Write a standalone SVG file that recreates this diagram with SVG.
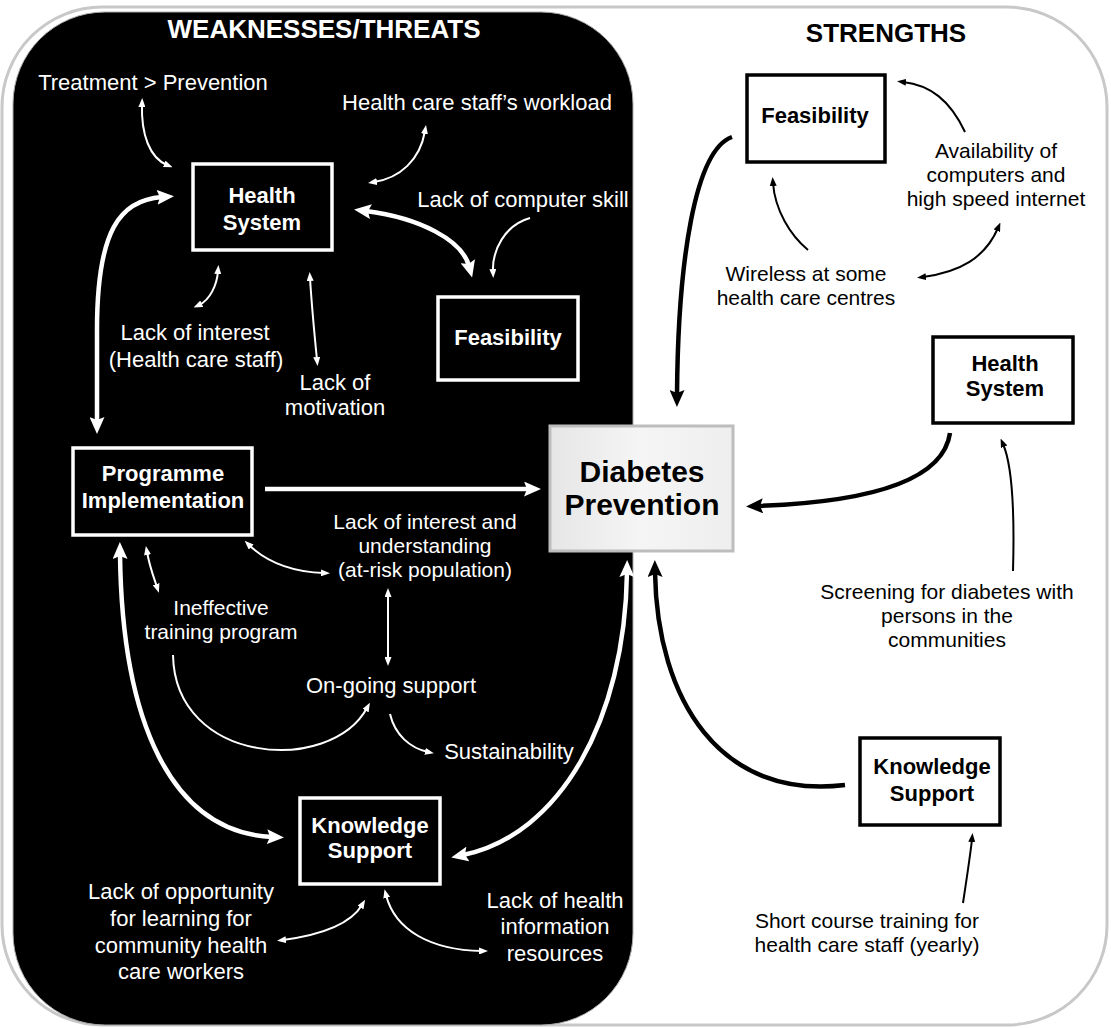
<svg xmlns="http://www.w3.org/2000/svg" width="1111" height="1028" viewBox="0 0 1111 1028">
<style>
text{font-family:"Liberation Sans",Arial,Helvetica,sans-serif;text-anchor:middle}
.w{fill:#fff;font-size:22px}
.k{fill:#000;font-size:21px}
.s{font-size:21px}
.wb{fill:#fff;font-size:22px;font-weight:bold}
.kb{fill:#000;font-size:22px;font-weight:bold}
.title{font-size:26px;font-weight:bold}
.nw{fill:#000;stroke:#fff;stroke-width:3.5}
.nk{fill:#fff;stroke:#000;stroke-width:3.5}
.cw{fill:none;stroke:#fff;stroke-width:2}
.cwt{fill:none;stroke:#fff;stroke-width:4.5}
.ck{fill:none;stroke:#000;stroke-width:2}
.ckt{fill:none;stroke:#000;stroke-width:4.5}
</style>
<defs>
<marker id="hw" viewBox="0 0 17 15" refX="5" refY="7.5" markerWidth="17" markerHeight="15" markerUnits="userSpaceOnUse" orient="auto-start-reverse"><path d="M0,0 L17,7.5 L0,15 L3,7.5 z" fill="#fff"/></marker>
<marker id="tw" viewBox="0 0 9 7" refX="3" refY="3.5" markerWidth="9" markerHeight="7" markerUnits="userSpaceOnUse" orient="auto-start-reverse"><path d="M0,0 L9,3.5 L0,7 z" fill="#fff"/></marker>
<marker id="hk" viewBox="0 0 17 15" refX="5" refY="7.5" markerWidth="17" markerHeight="15" markerUnits="userSpaceOnUse" orient="auto-start-reverse"><path d="M0,0 L17,7.5 L0,15 L3,7.5 z" fill="#000"/></marker>
<marker id="tk" viewBox="0 0 9 7" refX="3" refY="3.5" markerWidth="9" markerHeight="7" markerUnits="userSpaceOnUse" orient="auto-start-reverse"><path d="M0,0 L9,3.5 L0,7 z" fill="#000"/></marker>
<linearGradient id="dp" x1="0" y1="0" x2="1" y2="0"><stop offset="0" stop-color="#e6e6e6"/><stop offset="0.5" stop-color="#f5f5f5"/><stop offset="1" stop-color="#eeeeee"/></linearGradient>
</defs>
<rect width="1111" height="1028" fill="#fff"/>
<g id="panel-strengths">
<rect x="2" y="7" width="1105" height="1018" rx="100" fill="#fff" stroke="#c8c8c8" stroke-width="3"/>
<text class="kb title" x="886" y="42">STRENGTHS</text>
</g>
<g id="panel-weaknesses">
<rect x="13" y="12" width="620" height="1013" rx="92" fill="#000" stroke="#aaa" stroke-width="1"/>
<text class="wb title" x="324" y="38">WEAKNESSES/THREATS</text>
</g>

<g id="connectors">
<path class="cwt" d="M97,422 L97,330 C97,230 120,200 162,197" marker-start="url(#hw)" marker-end="url(#hw)"/>
<path class="cwt" d="M366,211 C420,218 462,240 469,266" marker-start="url(#hw)" marker-end="url(#hw)"/>
<path class="cwt" d="M265,489 L529,489" marker-end="url(#hw)"/>
<path class="cwt" d="M120,554 C122,720 170,832 272,837" marker-start="url(#hw)" marker-end="url(#hw)"/>
<path class="cwt" d="M627,572 C625,720 560,835 463,855" marker-start="url(#hw)" marker-end="url(#hw)"/>
<path class="ckt" d="M732,137 C695,150 678,260 677,395" marker-end="url(#hk)"/>
<path class="ckt" d="M950,433 C942,490 840,503 758,506" marker-end="url(#hk)"/>
<path class="ckt" d="M845,785 C720,800 657,700 655,572" marker-end="url(#hk)"/>
<path class="cw" d="M142,104 C141,135 150,158 167,165" marker-start="url(#tw)" marker-end="url(#tw)"/>
<path class="cw" d="M425,131 C420,160 400,178 374,182" marker-start="url(#tw)" marker-end="url(#tw)"/>
<path class="cw" d="M218,271 C217,285 210,300 199,305" marker-start="url(#tw)" marker-end="url(#tw)"/>
<path class="cw" d="M310,278 C312,310 315,340 317,360" marker-start="url(#tw)" marker-end="url(#tw)"/>
<path class="cw" d="M530,218 C505,225 492,250 493,272" marker-end="url(#tw)"/>
<path class="cw" d="M147,552 C150,568 154,578 157,587" marker-start="url(#tw)" marker-end="url(#tw)"/>
<path class="cw" d="M249,545 C270,565 295,572 324,573" marker-start="url(#tw)" marker-end="url(#tw)"/>
<path class="cw" d="M388,594 L388,660" marker-start="url(#tw)" marker-end="url(#tw)"/>
<path class="cw" d="M173,655 C175,765 330,775 367,708" marker-end="url(#tw)"/>
<path class="cw" d="M390,714 C395,735 410,748 428,752" marker-end="url(#tw)"/>
<path class="cw" d="M362,905 C350,925 320,935 283,940" marker-start="url(#tw)" marker-end="url(#tw)"/>
<path class="cw" d="M386,895 C395,930 430,950 482,951" marker-start="url(#tw)" marker-end="url(#tw)"/>
<path class="ck" d="M965,132 C950,100 930,85 903,82" marker-end="url(#tk)"/>
<path class="ck" d="M808,250 C790,235 775,210 773,183" marker-end="url(#tk)"/>
<path class="ck" d="M998,228 C985,258 960,272 923,277" marker-start="url(#tk)" marker-end="url(#tk)"/>
<path class="ck" d="M1013,571 C1015,500 1010,460 1003,444" marker-end="url(#tk)"/>
<path class="ck" d="M963,903 C968,870 971,850 972,839" marker-end="url(#tk)"/>
</g>

<g id="hs-left"><rect class="nw" x="193" y="164" width="139" height="86"/><text class="wb" x="262" y="203">Health</text><text class="wb" x="262" y="230">System</text></g>
<g id="feas-left"><rect class="nw" x="438" y="297" width="140" height="83"/><text class="wb" x="508" y="345">Feasibility</text></g>
<g id="prog-impl"><rect class="nw" x="73" y="448" width="179" height="87"/><text class="wb" x="163" y="481">Programme</text><text class="wb" x="163" y="508">Implementation</text></g>
<g id="ks-left"><rect class="nw" x="300" y="798" width="140" height="86"/><text class="wb" x="370" y="833">Knowledge</text><text class="wb" x="370" y="858">Support</text></g>
<g id="diabetes"><rect x="550" y="426" width="183" height="125" fill="url(#dp)" stroke="#bdbdbd" stroke-width="3"/><text class="kb" style="font-size:30px" x="642" y="482">Diabetes</text><text class="kb" style="font-size:30px" x="642" y="515">Prevention</text></g>
<g id="feas-right"><rect class="nk" x="747" y="75" width="138" height="87"/><text class="kb" x="815" y="123">Feasibility</text></g>
<g id="hs-right"><rect class="nk" x="933" y="337" width="140" height="86"/><text class="kb" x="1005" y="371">Health</text><text class="kb" x="1005" y="396">System</text></g>
<g id="ks-right"><rect class="nk" x="860" y="738" width="140" height="87"/><text class="kb" x="932" y="774">Knowledge</text><text class="kb" x="932" y="801">Support</text></g>

<g id="labels-left">
<text class="w" x="153" y="90">Treatment &gt; Prevention</text>
<text class="w" x="477" y="110">Health care staff’s workload</text>
<text class="w" x="523" y="207">Lack of computer skill</text>
<text class="w" x="195" y="340">Lack of interest</text>
<text class="w" x="196" y="367">(Health care staff)</text>
<text class="w" x="335" y="390">Lack of</text>
<text class="w" x="335" y="415">motivation</text>
<text class="w s" x="221" y="615">Ineffective</text>
<text class="w s" x="221" y="639">training program</text>
<text class="w s" x="425" y="529">Lack of interest and</text>
<text class="w s" x="425" y="553">understanding</text>
<text class="w s" x="425" y="577">(at-risk population)</text>
<text class="w" x="391" y="693">On-going support</text>
<text class="w" x="509" y="759">Sustainability</text>
<text class="w" x="181" y="899">Lack of opportunity</text>
<text class="w" x="181" y="926">for learning for</text>
<text class="w" x="181" y="953">community health</text>
<text class="w" x="181" y="979">care workers</text>
<text class="w" x="555" y="908">Lack of health</text>
<text class="w" x="555" y="934">information</text>
<text class="w" x="555" y="961">resources</text>
</g>
<g id="labels-right">
<text class="k" x="996" y="158">Availability of</text>
<text class="k" x="996" y="182">computers and</text>
<text class="k" x="996" y="206">high speed internet</text>
<text class="k" x="806" y="281">Wireless at some</text>
<text class="k" x="806" y="305">health care centres</text>
<text class="k" x="947" y="599">Screening for diabetes with</text>
<text class="k" x="947" y="623">persons in the</text>
<text class="k" x="947" y="647">communities</text>
<text class="k" x="867" y="928">Short course training for</text>
<text class="k" x="867" y="952">health care staff (yearly)</text>
</g>
</svg>
